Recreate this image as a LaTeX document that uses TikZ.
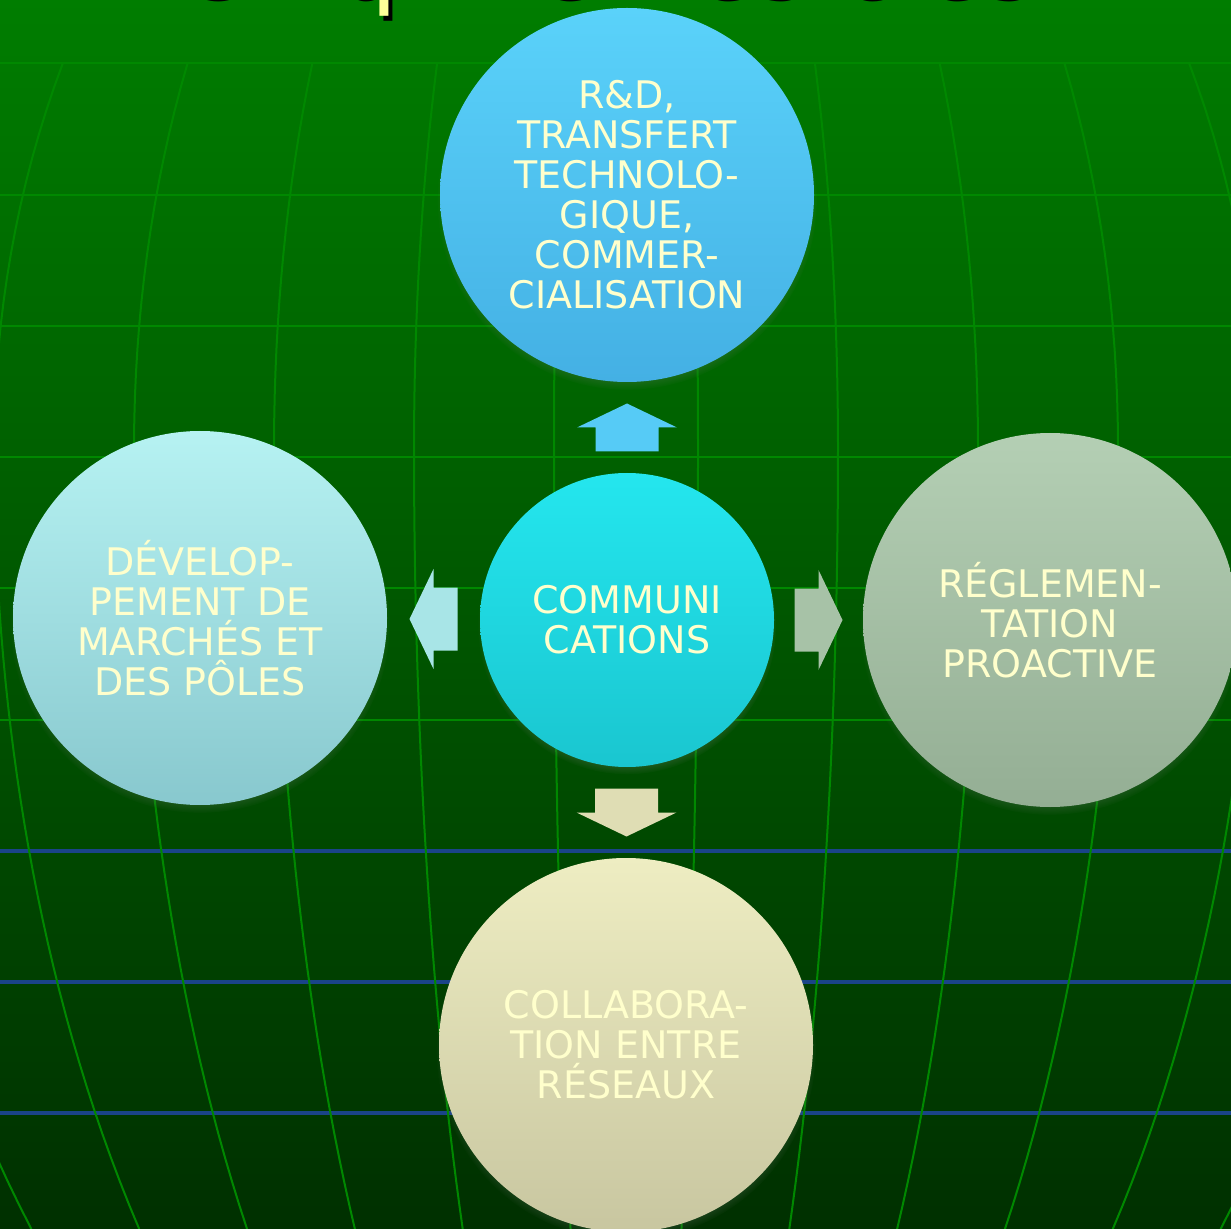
\documentclass[tikz,border=0pt]{standalone}
\usepackage{fontspec}
\setmainfont{DejaVu Sans}
\usetikzlibrary{shadows,calc}

\definecolor{fondhaut}{HTML}{007D00}
\definecolor{fondmilieu}{HTML}{006000}
\definecolor{fondbas}{HTML}{003000}
\definecolor{grille}{HTML}{008800}
\definecolor{grillebleue}{HTML}{1A4488}
\definecolor{textecreme}{HTML}{FFFFCC}
\definecolor{titrejaune}{HTML}{FFFF99}
\definecolor{bleuhaut}{HTML}{5AD2FA}
\definecolor{bleubas}{HTML}{44B0E4}
\definecolor{cyanhaut}{HTML}{24E6EE}
\definecolor{cyanbas}{HTML}{1AC6D0}
\definecolor{pastelhaut}{HTML}{B6F2F2}
\definecolor{pastelbas}{HTML}{88C8CE}
\definecolor{grishaut}{HTML}{B4CFB4}
\definecolor{grisbas}{HTML}{94AE94}
\definecolor{sablehaut}{HTML}{EEEDC2}
\definecolor{sablebas}{HTML}{C8C6A0}

\begin{document}
\begin{tikzpicture}[x=0.5pt,y=-0.5pt,
    declare function={lat(\t)=sqrt(1-((\t-449)/(850*(\t<449)+1223*(\t>=449)))*((\t-449)/(850*(\t<449)+1223*(\t>=449))));},
    theme/.style={circle, minimum size=187pt, inner sep=0pt, align=center,
        text=textecreme, font=\fontsize{19}{20}\selectfont,
        circular drop shadow={shadow xshift=0pt, shadow yshift=-2.5pt, shadow scale=1.015, opacity=.6}},
    bloc/.pic={\fill[#1] (-24,-31.5) -- (0,-31.5) -- (0,-50) -- (24,0) -- (0,50) -- (0,31.5) -- (-24,31.5) -- cycle;},
    titre/.style={anchor=base, inner sep=0pt, font=\fontsize{50}{60}\selectfont},
    meridien/.style={grille, line width=1pt},
    parallele/.style={grille, line width=1pt},
    parallelebleu/.style={grillebleue, line width=2pt}]

    %fond
    \clip (0,0) rectangle (1231,1229);
    \shade[top color=fondhaut, middle color=fondmilieu, bottom color=fondbas] (0,0) rectangle (1231,1229);

    %grille du globe
    \foreach \h in {63,195,326,457,588,720}
        \draw[parallele] (0,\h) -- (1231,\h);
    \foreach \h in {851,982,1113}
        \draw[parallelebleu] (0,\h) -- (1231,\h);
    \foreach \dec in {72,212,352,492,632,772} {
        \draw[meridien] plot[domain=63:1229, samples=50, variable=\t] ({626-\dec*lat(\t)},\t);
        \draw[meridien] plot[domain=63:1229, samples=50, variable=\t] ({626+\dec*lat(\t)},\t);
    }

    %titre coupe en haut
    \node[titre, text=black] (titreombre) at (607,1) {Cinq thèmes clés};
    \node[titre, text=titrejaune] (titre) at (603,-4) {Cinq thèmes clés};

    %cercles
    \node[theme, minimum size=147pt, top color=cyanhaut, bottom color=cyanbas] (comm) at (627,620) {COMMUNI\\CATIONS};
    \node[theme, top color=bleuhaut, bottom color=bleubas] (rd) at (627,195)
        {R\&D,\\TRANSFERT\\TECHNOLO-\\GIQUE,\\COMMER-\\CIALISATION};
    \node[theme, top color=pastelhaut, bottom color=pastelbas] (dev) at (200,618)
        {DÉVELOP-\\PEMENT DE\\MARCHÉS ET\\DES PÔLES};
    \node[theme, top color=grishaut, bottom color=grisbas] (reg) at (1050,620)
        {RÉGLEMEN-\\TATION\\PROACTIVE};
    \node[theme, top color=sablehaut, bottom color=sablebas] (coll) at (626,1045)
        {COLLABORA-\\TION ENTRE\\RÉSEAUX};

    %fleches
    \pic[rotate=90] (fhaut) at ($(comm.north)!.5!(rd.south)$) {bloc=bleuhaut!80!bleubas};
    \pic[rotate=180] (fgauche) at ($(comm.west)!.5!(dev.east)$) {bloc=pastelhaut!70!pastelbas};
    \pic (fdroite) at ($(comm.east)!.5!(reg.west)$) {bloc=grishaut!60!grisbas};
    \pic[rotate=-90] (fbas) at ($(comm.south)!.5!(coll.north)$) {bloc=sablehaut!60!sablebas};
\end{tikzpicture}
\end{document}
